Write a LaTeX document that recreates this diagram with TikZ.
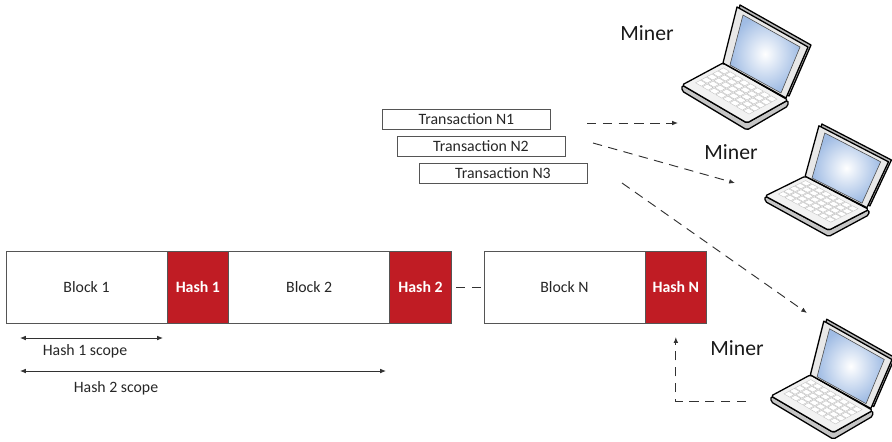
\documentclass[tikz,border=0pt]{standalone}
\usepackage{fontspec}
\setmainfont{Carlito}
\usetikzlibrary{arrows.meta, positioning}
\definecolor{hashred}{RGB}{192,28,36}
\definecolor{edgegray}{RGB}{85,85,85}
\definecolor{flowgray}{RGB}{50,50,50}
\definecolor{screenblue}{RGB}{160,188,228}

\tikzset{
  laptop/.pic={
    % lid, back face
    \draw[line width=1.1pt, fill=gray!55, line join=round]
      (44,-24) -- (107,11) -- (129,-40) -- (58,-80) -- cycle;
    % base: side faces, then the top
    \draw[line width=1.1pt, fill=gray!45, rounded corners=1.5pt, line join=round]
      (0,0) -- (65,38) -- (106,15) -- (106,21) -- (65,45) -- (0,6) -- cycle;
    \draw[line width=1.1pt, fill=gray!10, rounded corners=1.5pt, line join=round]
      (0,0) -- (41,-22) -- (106,15) -- (65,38) -- cycle;
    % keyboard
    \begin{scope}[x={(1.23cm,0.66cm)}, y={(1.95cm,-1.14cm)}]
      \foreach \i in {0,...,4}
        \foreach \j in {0,...,7}
          \draw[gray!50, fill=white, line width=0.3pt]
            ({0.22+0.14*\i},{0.07+0.105*\j}) -- ++(0.12,0) -- ++(0,0.088) -- ++(-0.12,0) -- cycle;
    \end{scope}
    % lid, front face and screen
    \draw[line width=1.1pt, fill=gray!18, line join=round]
      (41,-22) -- (104,13) -- (126,-38) -- (55,-78) -- cycle;
    \shade[inner color=white, outer color=screenblue]
      (48,-20) -- (99,8) -- (118,-38) -- (61,-70) -- cycle;
    \draw[gray!60!black, line width=0.5pt]
      (48,-20) -- (99,8) -- (118,-38) -- (61,-70) -- cycle;
  }
}

\begin{document}
\begin{tikzpicture}[x=0.03cm, y=-0.03cm, >={Latex[length=5pt,width=4pt]},
  cellbox/.style={draw=edgegray, line width=0.6pt, minimum height=2.16cm,
    inner sep=0pt, outer sep=0pt, font=\fontsize{13.5}{16}\selectfont},
  blockbox/.style={cellbox, fill=white, text=black!85, minimum width=4.83cm},
  hashbox/.style={cellbox, fill=hashred, text=white,
    font=\fontsize{13.5}{16}\selectfont\bfseries, minimum width=1.85cm},
  txbox/.style={draw=edgegray, line width=0.6pt, minimum width=5.04cm,
    minimum height=0.6cm, inner sep=0pt, text=black!85,
    font=\fontsize{13.5}{16}\selectfont},
  flow/.style={->, flowgray, line width=0.8pt, dash pattern=on 8pt off 5.5pt},
  scopearrow/.style={<->, flowgray, line width=0.7pt},
  scopelabel/.style={text=black!85, font=\fontsize{13.5}{16}\selectfont},
  minerlabel/.style={text=black!90, font=\fontsize{18.5}{22}\selectfont}]

  \useasboundingbox (0,0) rectangle (892,441);

  % Blocks of the chain
  \node[blockbox, anchor=west] (block1) at (6,287) {Block 1};
  \node[hashbox, right=0pt of block1] (hash1) {Hash 1};
  \node[blockbox, right=0pt of hash1] (block2) {Block 2};
  \node[hashbox, right=0pt of block2] (hash2) {Hash 2};
  \node[blockbox, anchor=west] (blockN) at (484,287) {Block N};
  \node[hashbox, right=0pt of blockN] (hashN) {Hash N};
  \draw[flowgray, line width=0.8pt, dash pattern=on 8pt off 5.5pt]
    ([xshift=4pt]hash2.east) -- (blockN.west);

  % Hash scopes
  \coordinate (h1a) at (20,338);
  \coordinate (h1b) at (163,338);
  \coordinate (h2a) at (20,371);
  \coordinate (h2b) at (386,371);
  \draw[scopearrow] (h1a) -- (h1b);
  \draw[scopearrow] (h2a) -- (h2b);
  \node[scopelabel] (h1lbl) at (85,351) {Hash 1 scope};
  \node[scopelabel] (h2lbl) at (116,388) {Hash 2 scope};

  % Pending transactions
  \node[txbox] (tx1) at (466.5,119) {Transaction N1};
  \node[txbox] (tx2) at (481,146) {Transaction N2};
  \node[txbox] (tx3) at (503,173) {Transaction N3};

  % Miners
  \node[minerlabel] (miner1) at (647,33) {Miner};
  \node[minerlabel] (miner2) at (731,152) {Miner};
  \node[minerlabel] (miner3) at (737,348) {Miner};
  \pic at (682,85) {laptop};
  \pic[xscale=0.98, yscale=0.9] at (765,196) {laptop};
  \pic[scale=0.96] at (771,396) {laptop};

  % Transactions sent to the miners
  \coordinate (t1out) at (587,123);
  \coordinate (m1in) at (678,123);
  \coordinate (t2out) at (593,143);
  \coordinate (m2in) at (735,183);
  \coordinate (t3out) at (622,183);
  \coordinate (m3in) at (807,313);
  \draw[flow] (t1out) -- (m1in);
  \draw[flow] (t2out) -- (m2in);
  \draw[flow] (t3out) -- (m3in);

  % New block back to the chain
  \coordinate (ret) at (746,401);
  \draw[flow] (ret) -| ([yshift=-12pt]hashN.south);
\end{tikzpicture}
\end{document}
